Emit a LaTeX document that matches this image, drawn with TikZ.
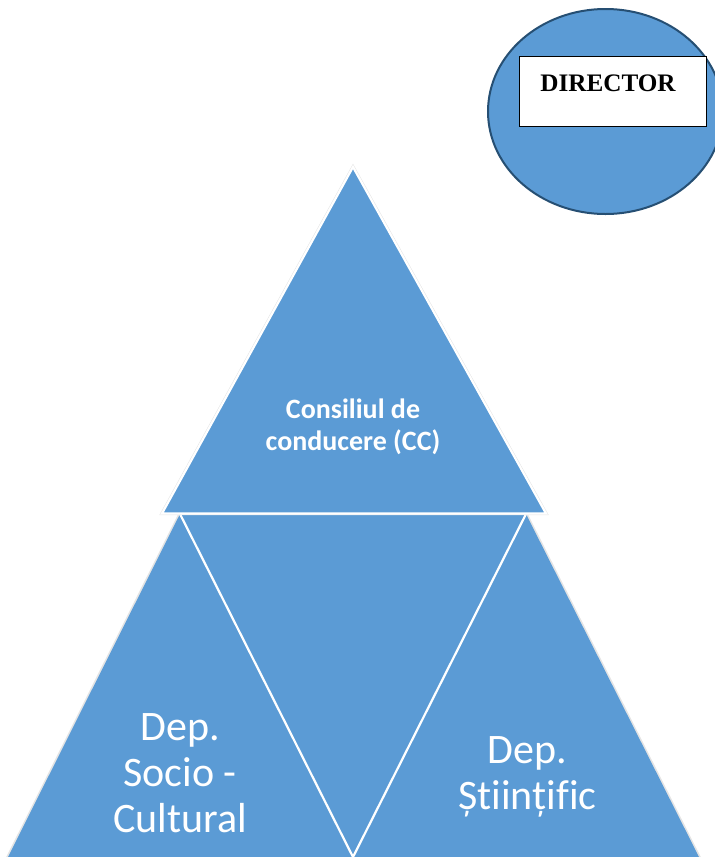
\documentclass[tikz,border=0pt]{standalone}
\usepackage{fontspec}
\setmainfont{Carlito}[Ligatures=NoCommon]
\newfontfamily\serifbold{Liberation Serif}[Scale=1]
\definecolor{fillblue}{HTML}{5B9BD5}
\definecolor{edgeblue}{HTML}{264F73}
\definecolor{halo}{HTML}{E4E4E4}
\tikzset{
  tri/.style={fill=fillblue,draw=white,line width=2.2pt,line join=miter},
  halotri/.style={draw=halo,line width=3.2pt,line join=miter},
  biglabel/.style={text=white,align=center,font=\fontsize{42}{46.3}\selectfont,inner sep=0pt},
  cclabel/.style={text=white,align=center,font=\bfseries\fontsize{28}{32}\selectfont,inner sep=0pt},
  dirbox/.style={draw=black,fill=white,line width=1.1pt,minimum width=187pt,minimum height=70pt,inner sep=0pt,anchor=north west},
  dirtext/.style={font=\serifbold\bfseries\fontsize{25.2}{28}\selectfont,text=black,inner sep=0pt},
  dirshape/.style={fill=fillblue,draw=edgeblue,line width=2pt}
}
\begin{document}
\begin{tikzpicture}[x=1pt,y=-1pt]
\useasboundingbox (0,0) rectangle (715,857);
\begin{scope}
\clip (0,0) rectangle (715,857);
% lower group
\draw[halotri] (180,514) -- (8,857) -- (699,857) -- (526,514) -- cycle;
\fill[fillblue] (180,514) -- (8,857) -- (699,857) -- (526,514) -- cycle;
\draw[white,line width=2.2pt] (180,514) -- (353,857) -- (526,514);
% top triangle
\draw[halotri] (353,167) -- (162,513.5) -- (546,513.5) -- cycle;
\draw[tri] (353,167) -- (162,513.5) -- (546,513.5) -- cycle;
% director
\draw[dirshape] (605.5,111.5) ellipse [x radius=117.5, y radius=102.5];
\end{scope}
\node[dirbox] (box) at (519.2,56) {};
\node[dirtext] (director) at (608,83.5) {DIRECTOR};
\node[cclabel] (cc) at (353,426.5) {Consiliul de\\conducere (CC)};
\node[biglabel] (socio) at (180,773) {Dep.\\Socio -\\Cultural};
\node[biglabel] (stiintific) at (527.5,777) {Dep.\\Științific};
\end{tikzpicture}
\end{document}
